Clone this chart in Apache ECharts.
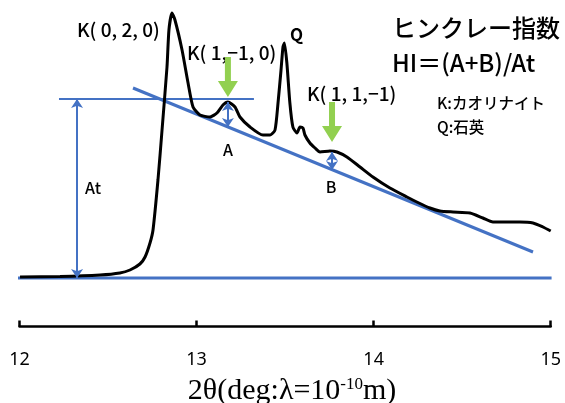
<!DOCTYPE html>
<html>
<head>
<meta charset="utf-8">
<style>
  html, body { margin: 0; padding: 0; background: #fff; }
  #chart { width: 565px; height: 403px; }
</style>
<script src="https://cdn.jsdelivr.net/npm/echarts@6/dist/echarts.min.js"></script>
</head>
<body>
<div id="chart"></div>
<script>
// ---------------- データ ----------------
// 2θ (deg)
const twoTheta = [
  12.003, 12.229, 12.455, 12.567, 12.624, 12.680, 12.709, 12.737, 12.754, 12.782,
  12.805, 12.833, 12.844, 12.861, 12.878, 12.918, 12.952, 12.980, 13.019, 13.076,
  13.115, 13.149, 13.177, 13.217, 13.245, 13.302, 13.375, 13.415, 13.443, 13.460,
  13.477, 13.488, 13.496, 13.510, 13.527, 13.544, 13.567, 13.584, 13.601, 13.612,
  13.640, 13.669, 13.697, 13.753, 13.793, 13.849, 13.923, 13.996, 14.092, 14.188,
  14.244, 14.318, 14.374, 14.448, 14.544, 14.617, 14.674, 14.753, 14.826, 14.900,
  14.956, 15.000
];
// 強度 (任意単位, ベースライン = 0)
const intensity = [
  1, 1.5, 3, 5, 8, 14, 21, 35, 48, 98,
  148, 211, 248, 265, 258, 228, 195, 171, 163, 161,
  165, 173, 176, 171, 161, 151, 143, 143, 148, 175,
  208, 231, 235, 215, 175, 151, 145, 151, 150, 143,
  135, 130, 126, 127, 126, 121, 111, 101, 90, 81,
  76, 70, 67, 66, 65, 60, 56, 56, 56, 55,
  51, 47
];

// 補助線
const baseLine = [[11.99, 0], [15.005, 0]];
const tangentLine = [[12.641, 190], [14.900, 26]];
const topLine = [[12.223, 179], [13.324, 179]];
// 矢印 [x, 下端, 上端]
const atArrow = [12.325, 0, 179];
const aArrow = [13.177, 151, 176];
const bArrow = [13.765, 108, 126];
// 緑の矢印の先端 [x, y]
const greenArrows = [[13.177, 181], [13.765, 136]];

const BLUE = '#4472c4';
const GREEN = '#92d050';
const JP = "'Noto Sans CJK JP', sans-serif";

const chart = echarts.init(document.getElementById('chart'));

// 両矢印
function dblArrow(a, w) {
  return {
    type: 'line',
    data: [],
    silent: true,
    markLine: {
      silent: true,
      symbol: ['arrow', 'arrow'],
      symbolSize: [9, 9],
      label: { show: false },
      lineStyle: { color: BLUE, width: w, type: 'solid' },
      data: [[{ coord: [a[0], a[1]] }, { coord: [a[0], a[2]] }]]
    }
  };
}

function plainLine(pts, w) {
  return {
    type: 'line',
    data: pts,
    symbol: 'none',
    silent: true,
    clip: false,
    lineStyle: { color: BLUE, width: w }
  };
}

// テキスト（左端 x, 中心 y）
function txt(s, x, y, font, align) {
  return {
    type: 'text',
    x: x,
    y: y,
    style: { text: s, font: font, fill: '#000', align: align || 'left', verticalAlign: 'middle' }
  };
}

const greenPath = 'path://M7,0 L13,0 L13,24 L20,24 L10,40 L0,24 L7,24 Z';

const option = {
  animation: false,
  grid: { left: 19.5, right: 14.3, top: 0, bottom: 76.5, outerBoundsMode: 'none' },
  xAxis: {
    type: 'value',
    min: 12,
    max: 15,
    interval: 1,
    axisLine: { onZero: false, lineStyle: { color: '#000', width: 2.5 } },
    axisTick: { inside: true, length: 6, lineStyle: { color: '#000', width: 2.5 } },
    splitLine: { show: false },
    axisLabel: {
      margin: 24,
      color: '#000',
      fontSize: 18,
      fontFamily: "'Noto Sans', sans-serif",
      showMinLabel: true,
      showMaxLabel: true
    },
    name: '{a|2θ(deg:λ=10}{s|-10}{a|m)}',
    nameLocation: 'middle',
    nameGap: 50,
    nameTextStyle: {
      padding: [0, 0, 0, 14],
      rich: {
        a: { fontFamily: "'Liberation Serif', serif", fontSize: 30, color: '#000' },
        s: { fontFamily: "'Liberation Serif', serif", fontSize: 17, color: '#000', verticalAlign: 'top', padding: [0, 0, 13, 0] }
      }
    }
  },
  yAxis: { type: 'value', min: -48.5, max: 278, show: false },
  series: [
    plainLine(baseLine, 3),
    plainLine(topLine, 2),
    plainLine(tangentLine, 3),
    dblArrow(atArrow, 2),
    dblArrow(aArrow, 2),
    dblArrow(bArrow, 2),
    {
      type: 'line',
      data: twoTheta.map((x, i) => [x, intensity[i]]),
      symbol: 'none',
      smooth: 0.2,
      silent: true,
      lineStyle: { color: '#000', width: 3 },
      markPoint: {
        silent: true,
        symbol: greenPath,
        symbolSize: [20, 40],
        symbolOffset: [0, '-50%'],
        itemStyle: { color: GREEN },
        label: { show: false },
        data: greenArrows.map(p => ({ coord: p }))
      }
    }
  ],
  graphic: [
    txt('K( 0, 2, 0)', 77, 30, '500 19px ' + JP),
    txt('K( 1,−1, 0)', 187, 53, '500 19px ' + JP),
    txt('Q', 290, 35, 'bold 17px ' + JP),
    txt('K( 1, 1,−1)', 307, 94, '500 19px ' + JP),
    txt('ヒンクレー指数', 392, 28, '500 24px ' + JP),
    txt('HI＝(A+B)/At', 392, 63, '500 24px ' + JP),
    txt('K:カオリナイト', 437, 103, '500 15.5px ' + JP),
    txt('Q:石英', 437, 127, '500 15.5px ' + JP),
    txt('A', 228, 150, '500 16px ' + JP, 'center'),
    txt('B', 331, 187, '500 16px ' + JP, 'center'),
    txt('At', 85, 188, '500 16px ' + JP)
  ]
};
chart.setOption(option);
</script>
</body>
</html>
